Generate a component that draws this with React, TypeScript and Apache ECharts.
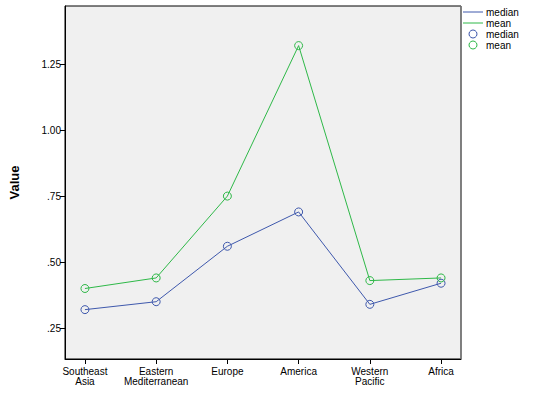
import React, { useEffect, useRef } from "react";
import * as echarts from "echarts";

const categories = ["Southeast\nAsia", "Eastern\nMediterranean", "Europe", "America", "Western\nPacific", "Africa"];
const medianValues = [0.32, 0.35, 0.56, 0.69, 0.34, 0.42];
const meanValues = [0.4, 0.44, 0.75, 1.32, 0.43, 0.44];
const yTicks = [0.25, 0.5, 0.75, 1.0, 1.25];

const BLUE = "#3E58AC";
const GREEN = "#2EB848";
const FONT = "Liberation Sans, Arial, sans-serif";

export default function App() {
  const ref = useRef<HTMLDivElement>(null);
  useEffect(() => {
    document.body.style.margin = "0";
    const chart = echarts.init(ref.current!, null, { renderer: "svg" });
    const fmtY = (v: number) => {
      const s = v.toFixed(2);
      return s.startsWith("0") ? s.slice(1) : s;
    };
    const xIdx = categories.map((_, i) => i);
    chart.setOption({
      animation: false,
      backgroundColor: "#ffffff",
      grid: {
        left: 64,
        top: 6,
        right: 73,
        bottom: 34,
        show: true,
        backgroundColor: "#F0F0F0",
        borderColor: "#000",
        borderWidth: 1,
      },
      xAxis: {
        type: "value",
        min: -0.28,
        max: 5.28,
        splitLine: { show: false },
        axisLine: { show: true, onZero: false, lineStyle: { color: "#000", width: 1 } },
        axisTick: { show: true, length: 5, lineStyle: { color: "#000" }, customValues: xIdx },
        axisLabel: {
          customValues: xIdx,
          formatter: (v: number) => categories[Math.round(v)] ?? "",
          color: "#000",
          fontFamily: FONT,
          fontSize: 10,
          lineHeight: 10,
          margin: 7,
        },
      },
      yAxis: {
        type: "value",
        min: 0.133,
        max: 1.47,
        name: "Value",
        nameLocation: "middle",
        nameGap: 44,
        nameRotate: 90,
        nameTextStyle: { fontFamily: FONT, fontSize: 13, fontWeight: "bold", color: "#000" },
        splitLine: { show: false },
        axisLine: { show: true, onZero: false, lineStyle: { color: "#000", width: 1 } },
        axisTick: { show: true, length: 5, lineStyle: { color: "#000" }, customValues: yTicks },
        axisLabel: {
          customValues: yTicks,
          formatter: fmtY,
          color: "#000",
          fontFamily: FONT,
          fontSize: 10,
          margin: 4,
        },
      },
      series: [
        {
          type: "line",
          name: "median",
          data: medianValues.map((v, i) => [i, v]),
          symbol: "circle",
          symbolSize: 8,
          showAllSymbol: true,
          color: BLUE,
          lineStyle: { color: BLUE, width: 1 },
          itemStyle: { color: "transparent", borderColor: BLUE, borderWidth: 1 },
        },
        {
          type: "line",
          name: "mean",
          data: meanValues.map((v, i) => [i, v]),
          symbol: "circle",
          symbolSize: 8,
          showAllSymbol: true,
          color: GREEN,
          lineStyle: { color: GREEN, width: 1 },
          itemStyle: { color: "transparent", borderColor: GREEN, borderWidth: 1 },
        },
      ],
      graphic: [
        { type: "line", shape: { x1: 461, y1: 6, x2: 461, y2: 359 }, style: { stroke: "#808080", lineWidth: 1.5 } },
        { type: "line", shape: { x1: 463, y1: 12, x2: 483, y2: 12 }, style: { stroke: BLUE, lineWidth: 1 } },
        { type: "text", x: 486, y: 12, style: { text: "median", fontFamily: FONT, fontSize: 10, fill: "#000", verticalAlign: "middle" } },
        { type: "line", shape: { x1: 463, y1: 23, x2: 483, y2: 23 }, style: { stroke: GREEN, lineWidth: 1 } },
        { type: "text", x: 486, y: 23, style: { text: "mean", fontFamily: FONT, fontSize: 10, fill: "#000", verticalAlign: "middle" } },
        { type: "circle", shape: { cx: 473, cy: 34, r: 4 }, style: { stroke: BLUE, fill: "none", lineWidth: 1 } },
        { type: "text", x: 486, y: 34, style: { text: "median", fontFamily: FONT, fontSize: 10, fill: "#000", verticalAlign: "middle" } },
        { type: "circle", shape: { cx: 473, cy: 45, r: 4 }, style: { stroke: GREEN, fill: "none", lineWidth: 1 } },
        { type: "text", x: 486, y: 45, style: { text: "mean", fontFamily: FONT, fontSize: 10, fill: "#000", verticalAlign: "middle" } },
      ],
    });
    return () => chart.dispose();
  }, []);
  return <div ref={ref} style={{ width: 534, height: 393, position: "absolute", left: 0, top: 0 }} />;
}
